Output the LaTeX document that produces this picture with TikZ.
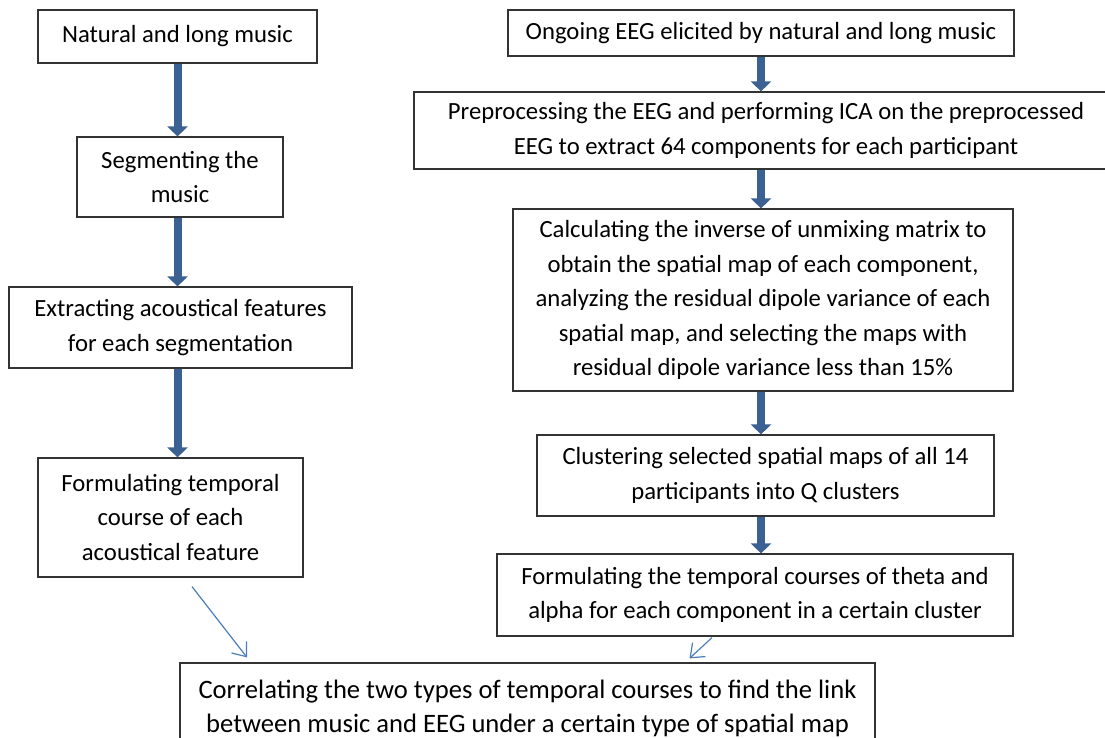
\documentclass[tikz,border=0pt]{standalone}
\usepackage{fontspec}
\setmainfont{Carlito}
\usetikzlibrary{arrows.meta}
\definecolor{flowblue}{RGB}{59,96,146}
\definecolor{linkblue}{RGB}{74,126,187}

\begin{document}
\begin{tikzpicture}[x=1pt, y=-1pt,
    box/.style={draw=black!80, line width=1.2pt, inner sep=0pt, align=center,
      font=\fontsize{24.7}{34.5}\selectfont},
    flow/.style={draw=flowblue, line width=8pt, -{Triangle[width=20pt,length=10pt]}},
    link/.style={draw=linkblue, line width=1.2pt, -{Straight Barb[length=12pt,width=19pt]}}]
  \useasboundingbox (0,0) rectangle (1105,738);

  % music side
  \node[box, minimum width=279pt, minimum height=53pt] (mus) at (177.5,36.5) {Natural and long music};
  \node[box, minimum width=206pt, minimum height=80pt] (seg) at (180,177) {Segmenting the\\music};
  \node[box, minimum width=343pt, minimum height=81pt] (feat) at (180.5,327.5) {Extracting acoustical features\\for each segmentation};
  \node[box, minimum width=265pt, minimum height=119pt] (tc) at (170.5,517.5) {Formulating temporal\\course of each\\acoustical feature};

  % EEG side
  \node[box, minimum width=506pt, minimum height=46pt] (eeg) at (761,33) {Ongoing EEG elicited by natural and long music};
  \node[box, minimum width=704pt, minimum height=77pt] (pre) at (766,130.5) {Preprocessing the EEG and performing ICA on the preprocessed\\EEG to extract 64 components for each participant};
  \node[box, minimum width=500pt, minimum height=182pt] (inv) at (763,300) {Calculating the inverse of unmixing matrix to\\obtain the spatial map of each component,\\analyzing the residual dipole variance of each\\spatial map, and selecting the maps with\\residual dipole variance less than 15\%};
  \node[box, minimum width=457pt, minimum height=81pt] (clu) at (765.5,475.5) {Clustering selected spatial maps of all 14\\participants into Q clusters};
  \node[box, minimum width=516pt, minimum height=82pt] (band) at (755,595) {Formulating the temporal courses of theta and\\alpha for each component in a certain cluster};

  \node[box, font=\fontsize{26.6}{34}\selectfont, minimum width=695pt, minimum height=90pt] (corr) at (527.5,708) {Correlating the two types of temporal courses to find the link\\between music and EEG under a certain type of spatial map};

  \draw[flow] (mus.south) -- (mus.south |- seg.north);
  \draw[flow] (mus.south |- seg.south) -- (mus.south |- feat.north);
  \draw[flow] (mus.south |- feat.south) -- (mus.south |- tc.north);

  \draw[flow] (eeg.south) -- (eeg.south |- pre.north);
  \draw[flow] (eeg.south |- pre.south) -- (eeg.south |- inv.north);
  \draw[flow] (eeg.south |- inv.south) -- (eeg.south |- clu.north);
  \draw[flow] (eeg.south |- clu.south) -- (eeg.south |- band.north);

  \draw[link] ([xshift=21.5pt,yshift=-9pt]tc.south) -- ([xshift=-280.5pt,yshift=5pt]corr.north);
  \draw[link] ([xshift=-43pt,yshift=-1pt]band.south) -- ([xshift=162pt,yshift=4pt]corr.north);
\end{tikzpicture}
\end{document}
